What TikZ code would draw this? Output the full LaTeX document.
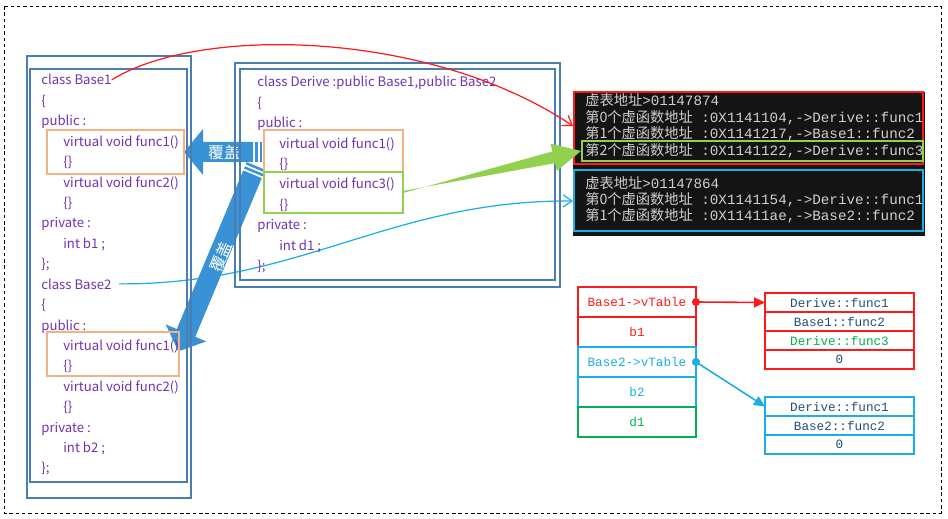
\documentclass[tikz,border=0pt]{standalone}
\usepackage{fontspec}
\setmainfont{Noto Sans CJK SC}
\setmonofont{Liberation Mono}
\newfontfamily\cjk{Noto Sans CJK SC}
\usetikzlibrary{arrows.meta,positioning,calc}
\definecolor{boxline}{HTML}{4A7DB0}
\definecolor{codepurple}{HTML}{7032B0}
\definecolor{ovrorange}{HTML}{F4B183}
\definecolor{newgreen}{HTML}{92D050}
\definecolor{vred}{HTML}{FF1A1A}
\definecolor{vcyan}{HTML}{1AAEE6}
\definecolor{coverblue}{HTML}{3A92D6}
\definecolor{slotnavy}{HTML}{1F4E79}
\definecolor{slotgreen}{HTML}{00B050}
\definecolor{consolegray}{HTML}{D0D0D0}

\begin{document}
\begin{tikzpicture}[x=0.02cm,y=-0.02cm,>=Latex,
  code/.style={anchor=base west,text=codepurple,font=\fontsize{7.5}{9}\selectfont,inner sep=0pt},
  conline/.style={anchor=base west,text=consolegray,font=\fontsize{8.1}{9}\selectfont\ttfamily,inner sep=0pt},
  cell/.style={draw=#1,text=#1,line width=0.9pt,outer sep=0pt,minimum width=2.36cm,minimum height=0.6cm,inner sep=0pt,font=\ttfamily\fontsize{7.2}{8}\selectfont},
  slot/.style={draw=#1,line width=0.9pt,outer sep=0pt,minimum width=2.98cm,minimum height=0.38cm,inner sep=0pt,text=slotnavy,font=\ttfamily\fontsize{7.2}{8}\selectfont},
  boxframe/.style={draw=boxline,line width=0.9pt},
  cover/.style={fill=coverblue},
  covertext/.style={text=white,font=\fontsize{9}{10}\selectfont,inner sep=0pt},
  vptr/.style={line width=0.7pt,-{Straight Barb[length=5pt,width=7pt]}}]
  \useasboundingbox (0,0) rectangle (948,519);
  \draw[dash pattern=on 2pt off 1.6pt,line width=0.5pt] (4,6) rectangle (941,513);

  % Base2 -> second vptr
  \coordinate (cyanin) at (573,201);
  \node[code] (bl11dummy) at (41,289) {\phantom{class Base2}};
  \draw[vcyan,vptr,shorten <=4pt] (bl11dummy.east) .. controls (300,285) and (390,200) .. (cyanin);

  % override arrows
  \begin{scope}[shift={(262,152)},rotate=180]
    \fill[cover] (0,-10) rectangle (2.5,10);
    \fill[cover] (4.5,-10) rectangle (7,10);
    \fill[cover] (9,-10) -- (59,-10) -- (59,-23) -- (78,0) -- (59,23) -- (59,10) -- (9,10) -- cycle;
  \end{scope}
  \node[covertext] (cov1) at (224,152) {覆盖};
  \begin{scope}[shift={(256,166)},rotate=-112.75]
    \fill[cover] (0,-10) rectangle (2.5,10);
    \fill[cover] (4.5,-10) rectangle (7,10);
    \fill[cover] (9,-10) -- (181,-10) -- (181,-22) -- (201,0) -- (181,22) -- (181,10) -- (9,10) -- cycle;
  \end{scope}
  \node[covertext,rotate=67.25] (cov2) at (221,257) {覆盖};

  % class frames
  \draw[boxframe] (27,56) rectangle (191,498);
  \draw[boxframe] (30,69) rectangle (187,482);
  \draw[boxframe] (235,63) rectangle (560,287);
  \draw[boxframe] (240,69) rectangle (555,280);
  \draw[ovrorange,line width=0.8pt] (47,130) rectangle (184,174);
  \draw[ovrorange,line width=0.8pt] (47,332) rectangle (179,376);
  \draw[ovrorange,line width=0.8pt] (264,130) rectangle (403,172);
  \draw[newgreen,line width=0.8pt] (264,172) rectangle (403,213);

  \foreach \ind/\txt [count=\k] in {0/class Base1,0/\{,0/public :,1/virtual void func1(),1/\{\},
      1/virtual void func2(),1/\{\},0/private :,1/int b1 ;,0/\};,
      0/class Base2,0/\{,0/public :,1/virtual void func1(),1/\{\},
      1/virtual void func2(),1/\{\},0/private :,1/int b2 ;,0/\};}
    \node[code] (bl\k) at ({41+22*\ind},{85+20.42*(\k-1)}) {\txt};
  \foreach \ind/\txt [count=\k] in {0/{class Derive :public Base1,public Base2},0/\{,0/public :,
      1/virtual void func1(),1/\{\},1/virtual void func3(),1/\{\},0/private :,1/int d1 ;,0/\};}
    \node[code] (dl\k) at ({257+22*\ind},{87+20.4*(\k-1)}) {\txt};

  % console output
  \fill[black!92] (573,92) rectangle (925,236);
  \node[conline] (con1) at (585,106) {{\cjk 虚表地址}>01147874};
  \node[conline] (con2) at (585,122.5) {{\cjk 第0个虚函数地址} :0X1141104,->Derive::func1};
  \node[conline] (con3) at (585,139) {{\cjk 第1个虚函数地址} :0X1141217,->Base1::func2};
  \node[conline] (con4) at (585,155.5) {{\cjk 第2个虚函数地址} :0X1141122,->Derive::func3};
  \node[conline] (con5) at (585,189) {{\cjk 虚表地址}>01147864};
  \node[conline] (con6) at (585,205) {{\cjk 第0个虚函数地址} :0X1141154,->Derive::func1};
  \node[conline] (con7) at (585,221) {{\cjk 第1个虚函数地址} :0X11411ae,->Base2::func2};
  \draw[vred,line width=0.9pt] (574,92) rectangle (923,164);
  \draw[newgreen,line width=0.9pt] (582,141) rectangle (923,161);
  \draw[vcyan,line width=0.9pt] (574,170) rectangle (923,231);

  % Base1 -> first vptr
  \coordinate (redin) at (573,126);
  \draw[vred,vptr] (bl1.east) .. controls (200,25) and (430,30) .. (redin);

  % func3 -> new slot
  \coordinate (gs) at (403,192);
  \coordinate (gt) at (581,151);
  \coordinate (gb) at ($(gt)!0.56cm!(gs)$);
  \fill[newgreen] ($(gs)!0.02cm!90:(gt)$) -- ($(gb)!0.12cm!-90:(gt)$) -- ($(gb)!0.28cm!-90:(gt)$) -- (gt)
    -- ($(gb)!0.28cm!90:(gt)$) -- ($(gb)!0.12cm!90:(gt)$) -- ($(gs)!0.02cm!-90:(gt)$) -- cycle;

  % object layout
  \node[cell=vred] (vt1) at (637,302) {Base1->vTable};
  \node[cell=vred,below=0pt of vt1] (vb1) {b1};
  \node[cell=vcyan,below=0pt of vb1] (vt2) {Base2->vTable};
  \node[cell=vcyan,below=0pt of vt2] (vb2) {b2};
  \node[cell=slotgreen,below=0pt of vb2] (vd1) {d1};

  \node[slot=vred] (ta1) at (839.5,302.5) {Derive::func1};
  \node[slot=vred,below=0pt of ta1] (ta2) {Base1::func2};
  \node[slot=vred,below=0pt of ta2,text=slotgreen] (ta3) {Derive::func3};
  \node[slot=vred,below=0pt of ta3] (ta4) {0};
  \node[slot=vcyan] (tb1) at (839.5,406.5) {Derive::func1};
  \node[slot=vcyan,below=0pt of tb1] (tb2) {Base2::func2};
  \node[slot=vcyan,below=0pt of tb2] (tb3) {0};

  \draw[vred,line width=0.9pt,{Circle[length=0.16cm]}-{Triangle[length=0.22cm,width=0.2cm]},shorten <=-0.08cm] (vt1.east) -- (ta1.west);
  \draw[vcyan,line width=0.9pt,{Circle[length=0.16cm]}-{Triangle[length=0.22cm,width=0.2cm]},shorten <=-0.08cm] (vt2.east) -- (tb1.west);
\end{tikzpicture}
\end{document}
